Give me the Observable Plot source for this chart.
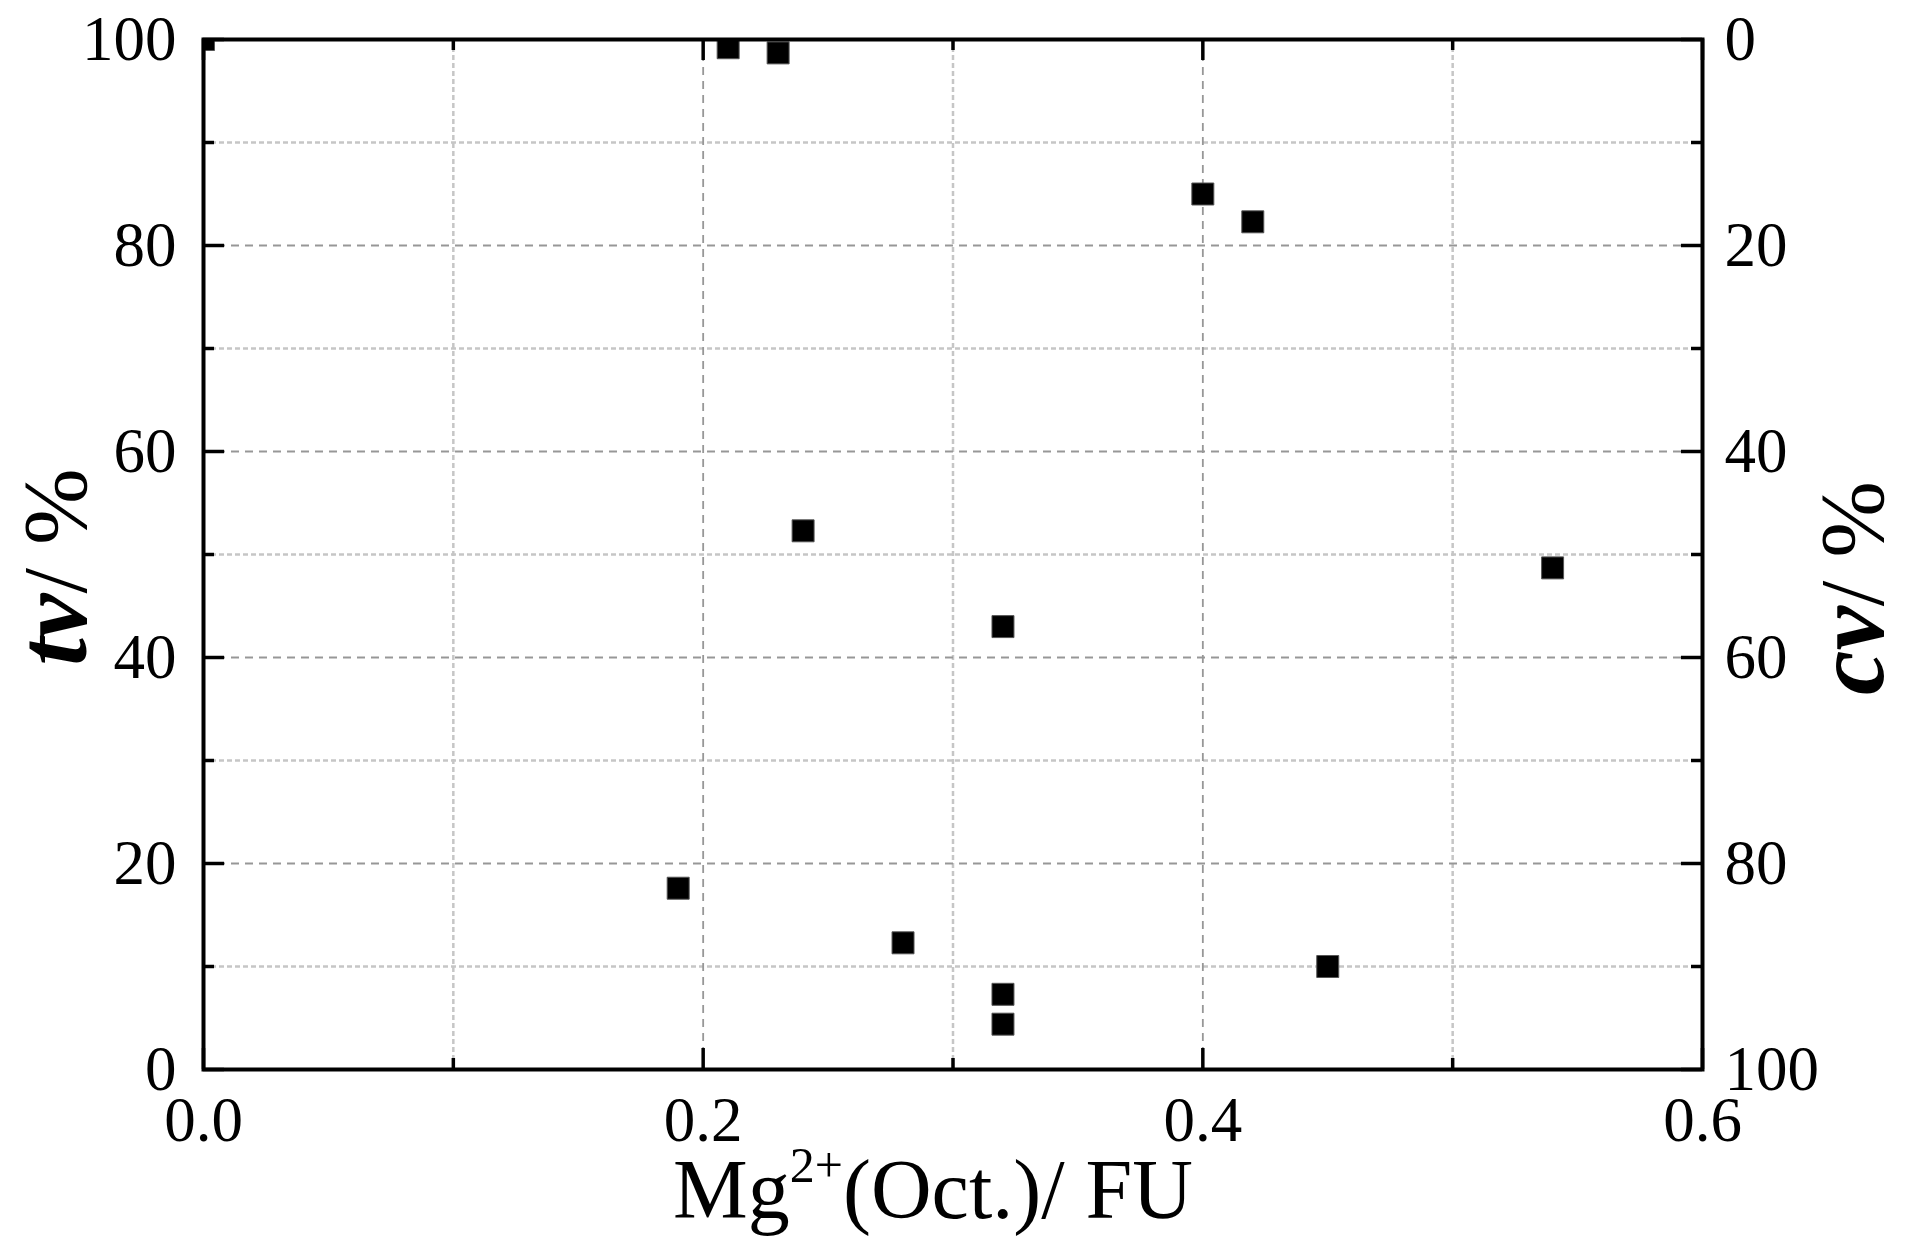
<!DOCTYPE html>
<html><head><meta charset="utf-8">
<script src="https://cdn.jsdelivr.net/npm/d3@7"></script>
<script src="https://cdn.jsdelivr.net/npm/@observablehq/plot@0.6"></script>
<style>
body{margin:0;background:#fff;}
#chart svg{display:block;}
</style>
</head><body><div id="chart"></div>
<script>
// Data
const mgOct    = [0.00, 0.21, 0.23, 0.24, 0.19, 0.28, 0.32, 0.32, 0.32, 0.40, 0.42, 0.45, 0.54];
const tvValues = [100,  99.2, 98.7, 52.3, 17.6, 12.3, 43.0, 7.3,  4.4,  85.0, 82.3, 10.0, 48.7];

const xMajorTicks = [0, 0.2, 0.4, 0.6];
const xMinorTicks = [0.1, 0.3, 0.5];
const yMajorTicks = [0, 20, 40, 60, 80, 100];
const yMinorTicks = [10, 30, 50, 70, 90];

const points = mgOct.map((x, i) => ({x, tv: tvValues[i]}));

const W = 1905, H = 1245;
const mL = 203, mR = 203, mT = 39, mB = 176;
const fw = W - mL - mR, fh = H - mT - mB;
const majLen = 21, minLen = 11;

const minorGrid = {stroke: "#c6c6c6", strokeWidth: 2.5, strokeDasharray: "5,3", strokeOpacity: 1};
const majorGrid = {stroke: "#979797", strokeWidth: 1.8, strokeDasharray: "8,6", strokeOpacity: 1};

const chart = Plot.plot({
  width: W, height: H,
  marginLeft: mL, marginRight: mR, marginTop: mT, marginBottom: mB,
  style: {fontFamily: "'Liberation Serif', 'Times New Roman', serif", fontSize: "63px", color: "black", background: "white"},
  x: {domain: [0, 0.6]},
  y: {domain: [0, 100]},
  marks: [
    Plot.gridX(xMinorTicks, minorGrid),
    Plot.gridY(yMinorTicks, minorGrid),
    Plot.gridX([0.2, 0.4], majorGrid),
    Plot.gridY([20, 40, 60, 80], majorGrid),
    // inward ticks: bottom / top
    Plot.tickX(xMajorTicks, {x: d => d, insetTop: fh - majLen, stroke: "black", strokeWidth: 3.5}),
    Plot.tickX(xMinorTicks, {x: d => d, insetTop: fh - minLen, stroke: "black", strokeWidth: 3.5}),
    Plot.tickX(xMajorTicks, {x: d => d, insetBottom: fh - majLen, stroke: "black", strokeWidth: 3.5}),
    Plot.tickX(xMinorTicks, {x: d => d, insetBottom: fh - minLen, stroke: "black", strokeWidth: 3.5}),
    // inward ticks: left / right
    Plot.tickY(yMajorTicks, {y: d => d, insetRight: fw - majLen, stroke: "black", strokeWidth: 3.5}),
    Plot.tickY(yMinorTicks, {y: d => d, insetRight: fw - minLen, stroke: "black", strokeWidth: 3.5}),
    Plot.tickY(yMajorTicks, {y: d => d, insetLeft: fw - majLen, stroke: "black", strokeWidth: 3.5}),
    Plot.tickY(yMinorTicks, {y: d => d, insetLeft: fw - minLen, stroke: "black", strokeWidth: 3.5}),
    Plot.dot(points, {x: "x", y: "tv", symbol: "square", r: 12.4, fill: "black", stroke: "#555", strokeWidth: 1, clip: true}),
    Plot.frame({stroke: "black", strokeWidth: 4}),
    Plot.axisX({ticks: xMajorTicks, tickFormat: d3.format(".1f"), tickSize: 0, tickPadding: 27, label: null}),
    Plot.axisY({anchor: "left", ticks: yMajorTicks, tickFormat: d => String(d), tickSize: 0, tickPadding: 27, label: null}),
    Plot.axisY({anchor: "right", ticks: yMajorTicks, tickFormat: d => String(100 - d), tickSize: 0, tickPadding: 22, label: null})
  ]
});

document.getElementById("chart").appendChild(chart);

// Axis titles
const svg = d3.select(chart);
const fam = "'Liberation Serif', 'Times New Roman', serif";

const xl = svg.append("text")
  .attr("x", 933).attr("y", 1218)
  .attr("text-anchor", "middle")
  .attr("font-family", fam).attr("font-size", 84).attr("fill", "black");
xl.append("tspan").text("Mg");
xl.append("tspan").attr("font-size", 50).attr("dy", -36).text("2+");
xl.append("tspan").attr("dy", 36).text("(Oct.)/ FU");

function yTitle(x, y, sym) {
  const t = svg.append("text")
    .attr("transform", `translate(${x},${y}) rotate(-90)`)
    .attr("text-anchor", "middle")
    .attr("font-family", fam).attr("fill", "black");
  t.append("tspan").attr("font-size", 100).attr("font-weight", "bold").attr("font-style", "italic").text(sym);
  t.append("tspan").attr("font-size", 92).text("/ %");
}
yTitle(86, 567, "tv");
yTitle(1883, 588, "cv");
</script>
</body></html>
